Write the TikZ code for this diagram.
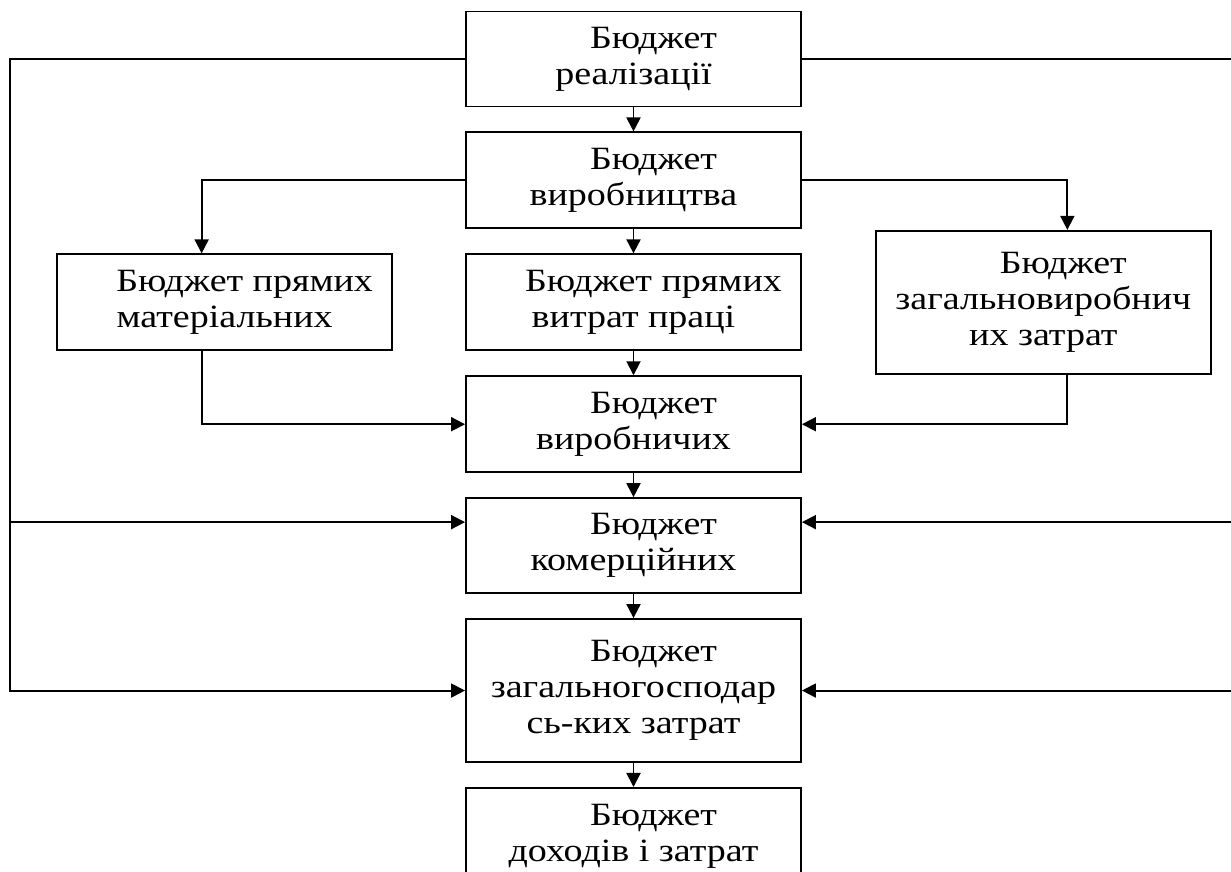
\documentclass[tikz,border=0pt]{standalone}
\usepackage{fontspec}
\setmainfont{Liberation Serif}[FakeStretch=1.17]
\usetikzlibrary{arrows.meta, positioning}

\begin{document}
\begin{tikzpicture}[
		x=0.02cm, y=-0.02cm,
		node distance=0.48cm,
		block/.style={
			rectangle,
			draw,
			align=center,
			minimum width=6.7cm,
			minimum height=1.92cm,
			inner sep=0pt,
			font=\fontsize{18.5}{20.5}\selectfont,
			line width=1.1pt
		},
		arrow/.style={
			-{Triangle[length=2.8mm, width=2.8mm]},
			line width=1.1pt
		}
	]

	\useasboundingbox (0,0) rectangle (1231,872);
	\clip (0,0) rectangle (1231,872);

	% central column
	\node[block, minimum height=1.9cm] (realiz) at (633.5,59) {\hspace*{8mm}Бюджет\\реалізації};
	\node[block, below=of realiz] (vyrob) {\hspace*{8mm}Бюджет\\виробництва};
	\node[block, below=of vyrob] (praci) {\hspace*{8mm}Бюджет прямих\\витрат праці};
	\node[block, below=of praci] (vytr) {\hspace*{8mm}Бюджет\\виробничих};
	\node[block, minimum height=1.9cm, below=of vytr] (komer) {\hspace*{8mm}Бюджет\\комерційних};
	\node[block, minimum height=2.86cm, below=of komer] (gosp) {\hspace*{8mm}Бюджет\\загальногосподар\\сь-ких затрат};
	\node[block, below=of gosp] (dohod) {\hspace*{8mm}Бюджет\\доходів і затрат};

	% side boxes
	\node[block, left=1.44cm of praci] (mat) {\hspace*{8mm}Бюджет прямих\\матеріальних};
	\node[block, minimum height=2.86cm, right=1.46cm of praci] (zahal) {\hspace*{8mm}Бюджет\\загальновиробнич\\их затрат};

	% bus lines at the edges
	\coordinate (lbus) at (10,0);
	\coordinate (rbus) at (1236,0);

	\draw[arrow] (realiz) -- (vyrob);
	\draw[arrow] (vyrob) -- (praci);
	\draw[arrow] (praci) -- (vytr);
	\draw[arrow] (vytr) -- (komer);
	\draw[arrow] (komer) -- (gosp);
	\draw[arrow] (gosp) -- (dohod);

	\draw[arrow] (vyrob.west) -| ([xshift=-0.46cm]mat.north);
	\draw[arrow] (vyrob.east) -| ([xshift=0.48cm]zahal.north);
	\draw[arrow] ([xshift=-0.46cm]mat.south) |- (vytr.west);
	\draw[arrow] ([xshift=0.48cm]zahal.south) |- (vytr.east);

	% left side
	\draw[arrow] (realiz.west) -- (realiz.west -| lbus) |- (gosp.west);
	\draw[arrow] ([yshift=0.47cm]komer.west -| lbus) -- ([yshift=0.47cm]komer.west);
	% right side
	\draw[arrow] (realiz.east) -- (realiz.east -| rbus) |- (gosp.east);
	\draw[arrow] ([yshift=0.47cm]komer.east -| rbus) -- ([yshift=0.47cm]komer.east);

\end{tikzpicture}
\end{document}
